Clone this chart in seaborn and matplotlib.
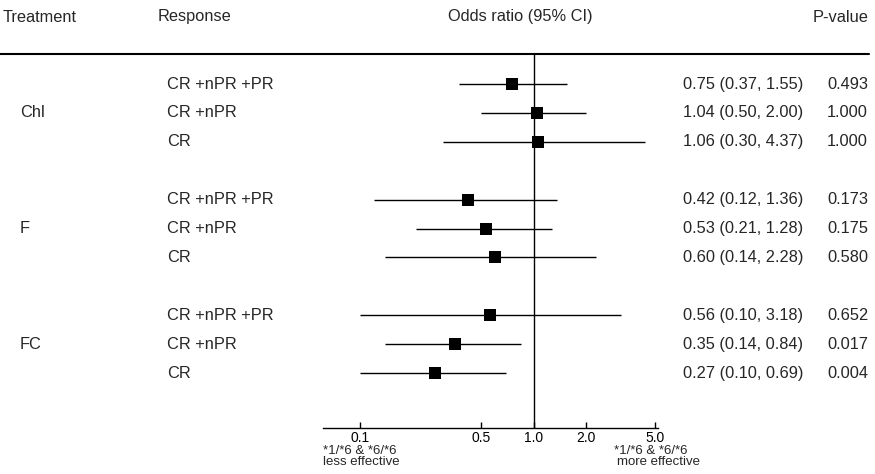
import matplotlib
matplotlib.use('Agg')
import matplotlib.pyplot as plt
import matplotlib.transforms as mtransforms
from matplotlib.lines import Line2D
import seaborn as sns
import pandas as pd

treatments = ['Chl', 'F', 'FC']
responses = ['CR +nPR +PR', 'CR +nPR', 'CR']
odds = [0.75, 1.04, 1.06, 0.42, 0.53, 0.60, 0.56, 0.35, 0.27]
ci_low = [0.37, 0.50, 0.30, 0.12, 0.21, 0.14, 0.10, 0.14, 0.10]
ci_high = [1.55, 2.00, 4.37, 1.36, 1.28, 2.28, 3.18, 0.84, 0.69]
p_values = ['0.493', '1.000', '1.000', '0.173', '0.175', '0.580', '0.652', '0.017', '0.004']
x_ticks = [0.1, 0.5, 1.0, 2.0, 5.0]

rows = []
for g, t in enumerate(treatments):
    for r, resp in enumerate(responses):
        i = g * 3 + r
        rows.append({'treatment': t, 'response': resp, 'pos': g * 4 + r,
                     'or': odds[i], 'lo': ci_low[i], 'hi': ci_high[i], 'p': p_values[i]})
df = pd.DataFrame(rows)

sns.set_style('white')
plt.rcParams['font.family'] = ['Liberation Sans', 'DejaVu Sans']

W, H = 875, 474
fig = plt.figure(figsize=(W / 100, H / 100), dpi=100)
ax = fig.add_axes([323 / W, 1 - 428 / H, (658 - 323) / W, (428 - 54) / H])

ax.hlines(df['pos'], df['lo'], df['hi'], color='black', lw=1)
sns.scatterplot(data=df, x='or', y='pos', marker='s', s=70, color='black',
                linewidth=0, legend=False, ax=ax, zorder=3)
ax.axvline(1.0, color='black', lw=1)

ax.set_xscale('log')
ax.set_xlim(0.0612, 5.2)
ax.set_ylim(11.9, -1.04)
ax.set_xticks(x_ticks)
ax.set_xticklabels(['%.1f' % v for v in x_ticks])
ax.minorticks_off()
ax.set_yticks([])
ax.set_xlabel('')
ax.set_ylabel('')
for s in ['top', 'left', 'right']:
    ax.spines[s].set_visible(False)
ax.spines['bottom'].set_linewidth(1)
ax.spines['bottom'].set_color('black')
ax.tick_params(axis='x', direction='in', length=4, width=1, labelsize=10, pad=2,
               bottom=True, colors='black')

fs = 11.8
trans = mtransforms.blended_transform_factory(fig.transFigure, ax.transData)
for _, row in df.iterrows():
    ax.text(167 / W, row['pos'], row['response'], transform=trans, va='center', ha='left', fontsize=fs)
    ax.text(683 / W, row['pos'], '%.2f (%.2f, %.2f)' % (row['or'], row['lo'], row['hi']),
            transform=trans, va='center', ha='left', fontsize=fs)
    ax.text(827 / W, row['pos'], row['p'], transform=trans, va='center', ha='left', fontsize=fs)
for g, t in enumerate(treatments):
    ax.text(20 / W, g * 4 + 1, t, transform=trans, va='center', ha='left', fontsize=fs)

# header
hy = 1 - 17 / H
fig.text(3 / W, hy, 'Treatment', va='center', ha='left', fontsize=fs)
fig.text(158 / W, hy, 'Response', va='center', ha='left', fontsize=fs)
fig.text(448 / W, hy, 'Odds ratio (95% CI)', va='center', ha='left', fontsize=fs)
fig.text(869 / W, hy, 'P-value', va='center', ha='right', fontsize=fs)
fig.add_artist(Line2D([0, 869 / W], [1 - 54 / H, 1 - 54 / H], color='black', lw=1.5))

# bottom annotations
fig.text(323 / W, 1 - 451 / H, '*1/*6 & *6/*6', va='center', ha='left', fontsize=9.5)
fig.text(323 / W, 1 - 462 / H, 'less effective', va='center', ha='left', fontsize=9.5)
fig.text(614 / W, 1 - 451 / H, '*1/*6 & *6/*6', va='center', ha='left', fontsize=9.5)
fig.text(617 / W, 1 - 462 / H, 'more effective', va='center', ha='left', fontsize=9.5)

fig.savefig('out.png', dpi=100)
